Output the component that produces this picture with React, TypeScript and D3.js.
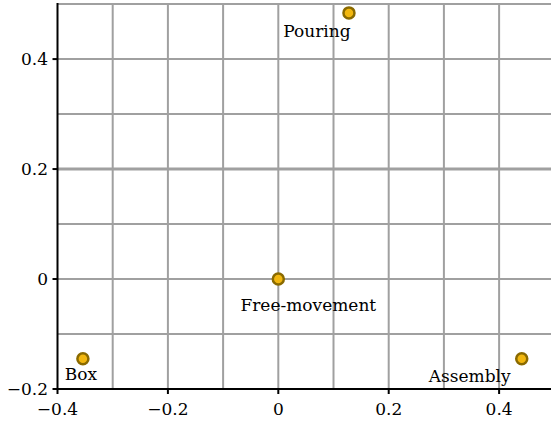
import React from "react";
import * as d3 from "d3";

const names = ["Box", "Free-movement", "Pouring", "Assembly"];
const xVals = [-0.354, 0.0, 0.128, 0.441];
const yVals = [-0.145, 0.0, 0.484, -0.145];
const xTicks = [-0.4, -0.2, 0, 0.2, 0.4];
const yTicks = [-0.2, 0, 0.2, 0.4];
const gridX = [-0.3, -0.2, -0.1, 0, 0.1, 0.2, 0.3, 0.4];
const gridY = [-0.1, 0, 0.1, 0.2, 0.3, 0.4, 0.5];
// label offsets in px (text anchor middle, baseline)
const labelDx = [-2, 30, -32, -52];
const labelDy = [21, 32, 24, 23];

const W = 551;
const H = 421;
const FONT = "'DejaVu Serif', serif";

const fmt = (v: number) => {
  if (Math.abs(v) < 1e-9) return "0";
  const s = Math.abs(v).toFixed(1);
  return (v < 0 ? "\u2212" : "") + s;
};

export default function App() {
  const x = d3.scaleLinear().domain([-0.4, 0.494]).range([57.5, 551]);
  const y = d3.scaleLinear().domain([-0.2, 0.502]).range([389, 3]);
  const left = x(-0.4);
  const bottom = y(-0.2);
  return (
    <svg
      width={W}
      height={H}
      style={{ position: "absolute", left: 0, top: 0, background: "#fff" }}
    >
      <rect x={0} y={0} width={W} height={H} fill="#fff" />
      <g>
        {gridX.map((v) => (
          <line key={"gx" + v} x1={x(v)} x2={x(v)} y1={y(0.502)} y2={bottom} stroke="#a0a0a0" strokeWidth={2} />
        ))}
        {gridY.map((v) => (
          <line key={"gy" + v} x1={left} x2={W} y1={y(v)} y2={y(v)} stroke="#a0a0a0" strokeWidth={v === 0.2 ? 3 : 2} />
        ))}
      </g>
      <line x1={left} x2={left} y1={y(0.502)} y2={bottom + 1} stroke="#000" strokeWidth={2} />
      <line x1={left - 1} x2={W} y1={bottom} y2={bottom} stroke="#000" strokeWidth={2} />
      {xTicks.map((v) => (
        <g key={"xt" + v}>
          <line x1={x(v)} x2={x(v)} y1={bottom} y2={bottom + 5} stroke="#000" strokeWidth={2} />
          <text x={x(v)} y={415} textAnchor="middle" fontFamily={FONT} fontSize={17} fill="#000">
            {fmt(v)}
          </text>
        </g>
      ))}
      {yTicks.map((v) => (
        <g key={"yt" + v}>
          <line x1={left - 5} x2={left} y1={y(v)} y2={y(v)} stroke="#000" strokeWidth={2} />
          <text x={48} y={y(v) + 6} textAnchor="end" fontFamily={FONT} fontSize={17} fill="#000">
            {fmt(v)}
          </text>
        </g>
      ))}
      {names.map((n, i) => (
        <g key={n}>
          <circle cx={x(xVals[i])} cy={y(yVals[i])} r={5.5} fill="#f2b70f" stroke="#8a6a00" strokeWidth={2.5} />
          <text
            x={x(xVals[i]) + labelDx[i]}
            y={y(yVals[i]) + labelDy[i]}
            textAnchor="middle"
            fontFamily={FONT}
            fontSize={17}
            fill="#000"
          >
            {n}
          </text>
        </g>
      ))}
    </svg>
  );
}
